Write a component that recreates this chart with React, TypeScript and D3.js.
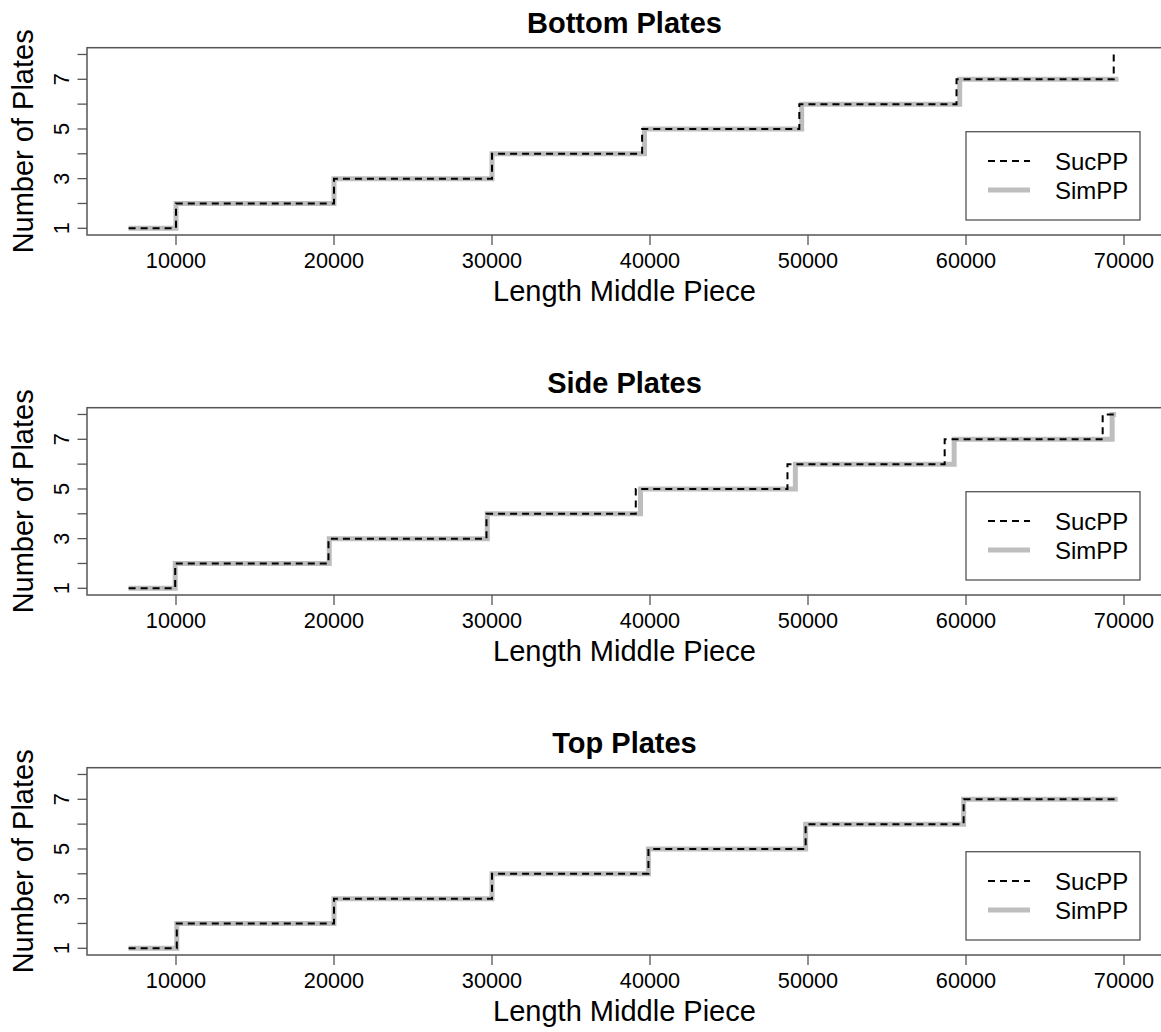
import React from "react";
import * as d3 from "d3";

// ---- Data ----
const panelTitles = ["Bottom Plates", "Side Plates", "Top Plates"];
const seriesNames = ["SucPP", "SimPP"];
const xTicks = [10000, 20000, 30000, 40000, 50000, 60000, 70000];
const yTicks = [1, 2, 3, 4, 5, 6, 7, 8];
const yTickLabels = [1, 3, 5, 7];

const bottomSucX = [7000, 10000, 20000, 30000, 39500, 49450, 59400, 69350];
const bottomSucY = [1, 2, 3, 4, 5, 6, 7, 8];
const bottomSimX = [7000, 10000, 20000, 30000, 39650, 49600, 59600, 69650];
const bottomSimY = [1, 2, 3, 4, 5, 6, 7, 7];

const sideSucX = [7000, 9950, 19650, 29650, 39100, 48700, 58650, 68650, 69500];
const sideSucY = [1, 2, 3, 4, 5, 6, 7, 8, 8];
const sideSimX = [7000, 9950, 19700, 29700, 39400, 49200, 59250, 69250, 69500];
const sideSimY = [1, 2, 3, 4, 5, 6, 7, 8, 8];

const topSucX = [7000, 10050, 20000, 30000, 39900, 49850, 59850, 69600];
const topSucY = [1, 2, 3, 4, 5, 6, 7, 7];
const topSimX = [7000, 10050, 20000, 30000, 39900, 49850, 59850, 69600];
const topSimY = [1, 2, 3, 4, 5, 6, 7, 7];

const panels = [
  { title: panelTitles[0], suc: [bottomSucX, bottomSucY], sim: [bottomSimX, bottomSimY] },
  { title: panelTitles[1], suc: [sideSucX, sideSucY], sim: [sideSimX, sideSimY] },
  { title: panelTitles[2], suc: [topSucX, topSucY], sim: [topSimX, topSimY] },
];

const W = 1161;
const H = 1032;
const FONT = "'Liberation Sans', Arial, Helvetica, sans-serif";
const PANEL_STEP = 360;
const BOX_LEFT = 87;
const BOX_RIGHT = 1162;
const BOX_TOP = 47.7;
const BOX_BOTTOM = 235;
const AXIS_COLOR = "#555";

const xScale = d3.scaleLinear().domain([10000, 70000]).range([176, 1124]);
const yScale = d3.scaleLinear().domain([1, 7]).range([228.3, 79.3]);

const stepLine = d3
  .line<[number, number]>()
  .x((d) => xScale(d[0]))
  .y((d) => yScale(d[1]))
  .curve(d3.curveStepAfter);

function toPts(xs: number[], ys: number[]): [number, number][] {
  return xs.map((x, i) => [x, ys[i]] as [number, number]);
}

function Panel({ p, offset }: { p: any; offset: number }) {
  const cx = (BOX_LEFT + BOX_RIGHT) / 2;
  const cy = (BOX_TOP + BOX_BOTTOM) / 2;
  const legX = 966;
  const legY = 131.7;
  return (
    <g transform={`translate(0,${offset})`}>
      <text x={cx} y={32.5} textAnchor="middle" fontFamily={FONT} fontWeight="bold" fontSize={29} fill="#000">
        {p.title}
      </text>
      {/* data */}
      <path d={stepLine(toPts(p.sim[0], p.sim[1])) || ""} fill="none" stroke="#bebebe" strokeWidth={5} />
      <path d={stepLine(toPts(p.suc[0], p.suc[1])) || ""} fill="none" stroke="#000" strokeWidth={2} strokeDasharray="7,5" />
      {/* box */}
      <rect x={BOX_LEFT} y={BOX_TOP} width={BOX_RIGHT - BOX_LEFT} height={BOX_BOTTOM - BOX_TOP} fill="none" stroke={AXIS_COLOR} strokeWidth={1.5} />
      {/* x axis */}
      {xTicks.map((t) => (
        <g key={t}>
          <line x1={xScale(t)} x2={xScale(t)} y1={BOX_BOTTOM} y2={BOX_BOTTOM + 10} stroke={AXIS_COLOR} strokeWidth={1.3} />
          <text x={xScale(t)} y={268} textAnchor="middle" fontFamily={FONT} fontSize={21.7} fill="#000">
            {t}
          </text>
        </g>
      ))}
      <text x={cx} y={301} textAnchor="middle" fontFamily={FONT} fontSize={29} fill="#000">
        Length Middle Piece
      </text>
      {/* y axis */}
      {yTicks.map((t) => (
        <line key={t} x1={BOX_LEFT} x2={BOX_LEFT - 9.5} y1={yScale(t)} y2={yScale(t)} stroke={AXIS_COLOR} strokeWidth={1.3} />
      ))}
      {yTickLabels.map((t) => (
        <text key={t} transform={`translate(68.5,${yScale(t)}) rotate(-90)`} textAnchor="middle" fontFamily={FONT} fontSize={21.7} fill="#000">
          {t}
        </text>
      ))}
      <text transform={`translate(33,${cy}) rotate(-90)`} textAnchor="middle" fontFamily={FONT} fontSize={29} fill="#000">
        Number of Plates
      </text>
      {/* legend */}
      <rect x={legX} y={legY} width={1140 - legX} height={220 - legY} fill="#fff" stroke={AXIS_COLOR} strokeWidth={1.3} />
      <line x1={988} x2={1030} y1={161} y2={161} stroke="#000" strokeWidth={2} strokeDasharray="7,5" />
      <line x1={988} x2={1030} y1={190} y2={190} stroke="#bebebe" strokeWidth={5} />
      <text x={1055} y={169.5} fontFamily={FONT} fontSize={24} fill="#000">
        {seriesNames[0]}
      </text>
      <text x={1055} y={199} fontFamily={FONT} fontSize={24} fill="#000">
        {seriesNames[1]}
      </text>
    </g>
  );
}

export default function App() {
  return (
    <svg width={W} height={H} style={{ position: "absolute", left: 0, top: 0, background: "#fff" }}>
      <rect x={0} y={0} width={W} height={H} fill="#fff" />
      {panels.map((p, i) => (
        <Panel key={i} p={p} offset={i * PANEL_STEP} />
      ))}
    </svg>
  );
}
